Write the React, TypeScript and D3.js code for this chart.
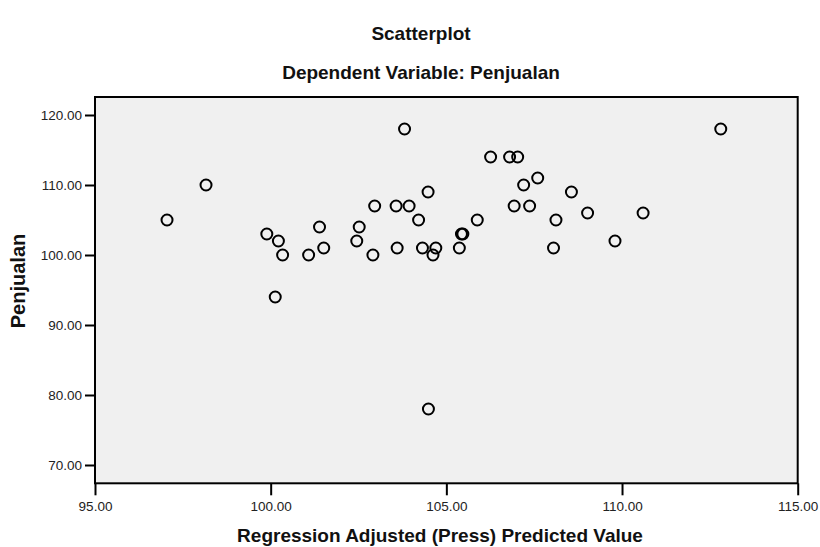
import React, { useEffect, useRef } from "react";
import * as d3 from "d3";

// Regression adjusted (press) predicted value
const predicted = [
  97.05, 98.16, 99.89, 100.22, 100.34, 101.08, 101.39, 101.51, 103.81, 106.26,
  106.8, 107.03, 107.6, 107.2, 104.48, 108.56, 102.96, 103.57, 103.94, 106.93,
  107.37, 102.52, 104.21, 105.88, 108.12, 102.45, 105.43, 105.47, 102.91, 103.6,
  104.32, 104.7, 104.62, 105.37, 108.05, 112.81, 109.02, 110.6, 109.8, 100.13,
  104.49,
];
// Penjualan
const penjualan = [
  105, 110, 103, 102, 100, 100, 104, 101, 118, 114,
  114, 114, 111, 110, 109, 109, 107, 107, 107, 107,
  107, 104, 105, 105, 105, 102, 103, 103, 100, 101,
  101, 101, 100, 101, 101, 118, 106, 106, 102, 94,
  78,
];
const xTicks = [95, 100, 105, 110, 115];
const yTicks = [70, 80, 90, 100, 110, 120];

const W = 820;
const H = 547;
const FONT = "'Liberation Sans', Arial, sans-serif";

const App = () => {
  const svgRef = useRef<SVGSVGElement>(null);

  useEffect(() => {
    const svg = d3.select(svgRef.current);
    svg.selectAll("*").remove();

    const left = 95;
    const right = 797.7;
    const top = 97;
    const bottom = 483.3;

    const x = d3.scaleLinear().domain([95, 115]).range([left, right]);
    const y = d3.scaleLinear().domain([70, 120]).range([465, 115]);

    svg.append("rect").attr("width", W).attr("height", H).attr("fill", "white");

    svg
      .append("rect")
      .attr("x", left)
      .attr("y", top)
      .attr("width", right - left)
      .attr("height", bottom - top)
      .attr("fill", "#f0f0f0")
      .attr("stroke", "black")
      .attr("stroke-width", 2);

    const yAxis = d3
      .axisLeft(y)
      .tickValues(yTicks)
      .tickSize(10)
      .tickPadding(3)
      .tickFormat(d3.format(".2f"));
    const gy = svg.append("g").attr("transform", `translate(${left},0)`).call(yAxis);
    gy.select(".domain").remove();
    gy.selectAll("line").attr("stroke", "black").attr("stroke-width", 2);
    gy.selectAll("text")
      .attr("font-family", FONT)
      .attr("font-size", 13.5)
      .attr("fill", "#222");

    const xAxis = d3
      .axisBottom(x)
      .tickValues(xTicks)
      .tickSize(12)
      .tickPadding(6)
      .tickFormat(d3.format(".2f"));
    const gx = svg.append("g").attr("transform", `translate(0,${bottom})`).call(xAxis);
    gx.select(".domain").remove();
    gx.selectAll("line").attr("stroke", "black").attr("stroke-width", 2);
    gx.selectAll("text")
      .attr("font-family", FONT)
      .attr("font-size", 13.5)
      .attr("fill", "#222");

    svg
      .append("g")
      .selectAll("circle")
      .data(predicted.map((p, i) => [p, penjualan[i]]))
      .join("circle")
      .attr("cx", (d) => x(d[0]))
      .attr("cy", (d) => y(d[1]))
      .attr("r", 5.5)
      .attr("fill", "none")
      .attr("stroke", "black")
      .attr("stroke-width", 2);

    const bold = (t: string, tx: number, ty: number, size: number, rot = 0) =>
      svg
        .append("text")
        .attr("transform", `translate(${tx},${ty}) rotate(${rot})`)
        .attr("text-anchor", "middle")
        .attr("font-family", FONT)
        .attr("font-weight", "bold")
        .attr("font-size", size)
        .attr("fill", "#111")
        .text(t);

    bold("Scatterplot", 421, 40, 19);
    bold("Dependent Variable: Penjualan", 421, 79, 19);
    bold("Regression Adjusted (Press) Predicted Value", 440, 542, 19);
    bold("Penjualan", 25, 281, 20, -90);
  }, []);

  return (
    <svg
      ref={svgRef}
      width={W}
      height={H}
      style={{ position: "absolute", left: 0, top: 0 }}
    />
  );
};

export default App;
